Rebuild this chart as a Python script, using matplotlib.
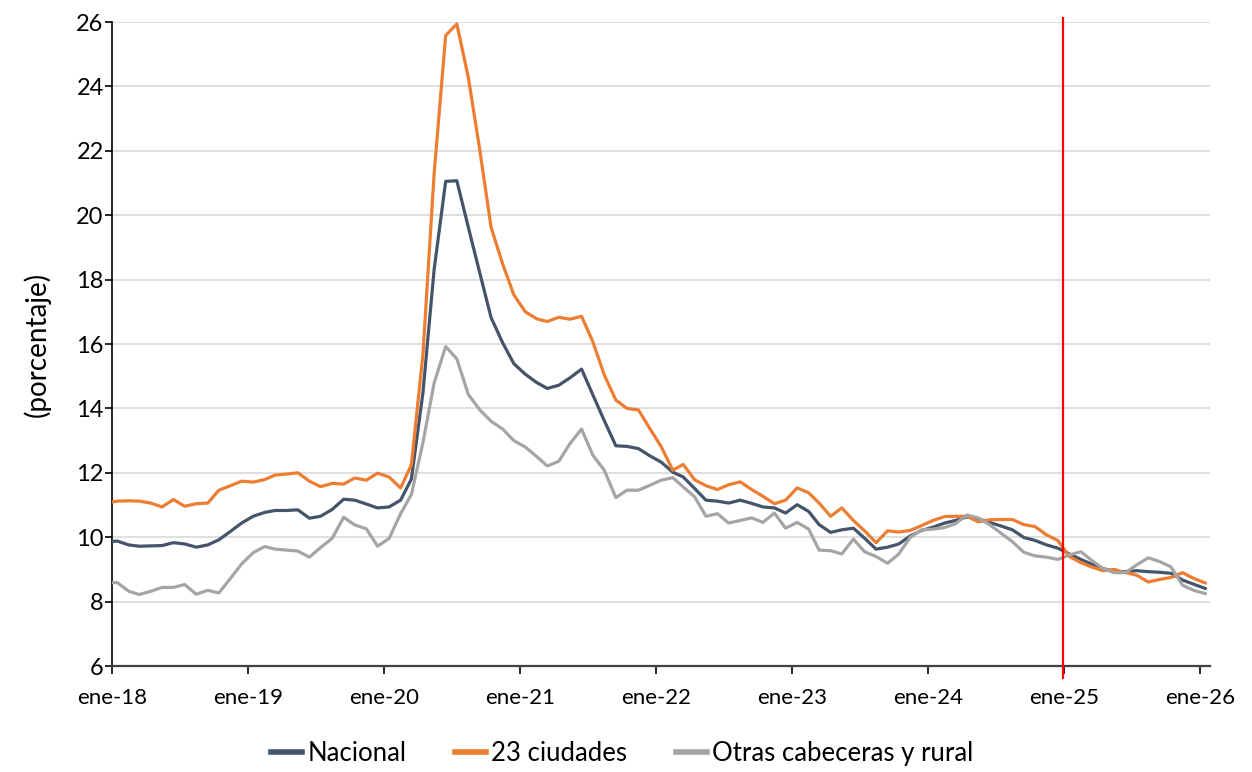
import matplotlib
matplotlib.use("Agg")
import matplotlib.pyplot as plt
import numpy as np
import pandas as pd

plt.rcParams['font.family'] = ['Lato', 'DejaVu Sans']

# monthly series, dic-17 .. ene-26 (points sit mid-month)
meses = pd.date_range('2017-12-01', '2026-01-01', freq='MS') + pd.Timedelta(days=14)

nacional = [9.85, 9.88, 9.76, 9.72, 9.73, 9.74, 9.83, 9.79, 9.69, 9.76, 9.92, 10.18,
            10.44, 10.65, 10.77, 10.83, 10.83, 10.85, 10.59, 10.65, 10.86, 11.18, 11.15, 11.03,
            10.91, 10.94, 11.15, 11.81, 14.49, 18.31, 21.05, 21.07, 19.62, 18.19, 16.82, 16.04,
            15.39, 15.06, 14.80, 14.62, 14.72, 14.95, 15.22, 14.43, 13.62, 12.84, 12.82, 12.75,
            12.53, 12.33, 12.02, 11.87, 11.51, 11.15, 11.12, 11.06, 11.15, 11.05, 10.94, 10.91,
            10.75, 11.01, 10.80, 10.39, 10.15, 10.23, 10.28, 9.97, 9.63, 9.69, 9.79, 10.04,
            10.21, 10.31, 10.44, 10.52, 10.63, 10.57, 10.46, 10.35, 10.23, 9.99, 9.90, 9.76,
            9.66, 9.48, 9.31, 9.17, 9.03, 8.93, 8.93, 8.96, 8.93, 8.91, 8.88, 8.67,
            8.54, 8.41]

ciudades = [11.06, 11.12, 11.13, 11.12, 11.06, 10.94, 11.17, 10.96, 11.04, 11.06, 11.46, 11.60,
            11.74, 11.71, 11.79, 11.93, 11.96, 12.00, 11.74, 11.57, 11.67, 11.65, 11.84, 11.77,
            11.99, 11.87, 11.53, 12.25, 15.68, 21.29, 25.58, 25.94, 24.27, 22.00, 19.62, 18.49,
            17.53, 17.00, 16.78, 16.70, 16.83, 16.77, 16.86, 16.08, 15.04, 14.26, 14.00, 13.95,
            13.38, 12.81, 12.08, 12.26, 11.78, 11.60, 11.48, 11.63, 11.72, 11.48, 11.27, 11.04,
            11.15, 11.53, 11.38, 11.06, 10.65, 10.91, 10.52, 10.20, 9.83, 10.20, 10.16, 10.21,
            10.36, 10.52, 10.64, 10.65, 10.65, 10.48, 10.54, 10.55, 10.55, 10.39, 10.33, 10.07,
            9.90, 9.40, 9.21, 9.08, 8.96, 9.00, 8.90, 8.82, 8.61, 8.69, 8.75, 8.90,
            8.72, 8.58]

otras = [8.58, 8.59, 8.32, 8.22, 8.32, 8.44, 8.44, 8.53, 8.23, 8.35, 8.27, 8.72,
         9.17, 9.52, 9.71, 9.63, 9.60, 9.57, 9.38, 9.68, 9.96, 10.62, 10.38, 10.26,
         9.72, 9.96, 10.73, 11.33, 12.94, 14.79, 15.92, 15.54, 14.43, 13.95, 13.60, 13.36,
         13.00, 12.80, 12.50, 12.21, 12.36, 12.91, 13.36, 12.55, 12.08, 11.23, 11.46, 11.46,
         11.61, 11.77, 11.85, 11.56, 11.25, 10.65, 10.73, 10.44, 10.52, 10.60, 10.46, 10.75,
         10.28, 10.46, 10.25, 9.60, 9.58, 9.48, 9.94, 9.55, 9.40, 9.19, 9.48, 10.00,
         10.23, 10.25, 10.30, 10.42, 10.69, 10.60, 10.39, 10.13, 9.86, 9.53, 9.42, 9.38,
         9.31, 9.45, 9.55, 9.29, 9.03, 8.90, 8.90, 9.14, 9.36, 9.24, 9.08, 8.51,
         8.35, 8.25]

anios = pd.date_range('2018-01-01', '2026-01-01', freq='YS')
etiquetas = ['ene-' + str(a.year)[2:] for a in anios]
corte = pd.Timestamp('2024-12-28')

fig = plt.figure(figsize=(12.52, 7.72), dpi=100)
ax = fig.add_axes([0.0895, 0.1373, 0.877, 0.8342])

ax.plot(meses, nacional, color='#44546A', lw=2.3, label='Nacional', zorder=3)
ax.plot(meses, ciudades, color='#ED7D31', lw=2.3, label='23 ciudades', zorder=3)
ax.plot(meses, otras, color='#A5A5A5', lw=2.3, label='Otras cabeceras y rural', zorder=3)

ax.axvline(corte, ymin=-0.019, ymax=1.006, color='#FF0000', lw=1.6, clip_on=False, zorder=4)

ax.set_xlim(pd.Timestamp('2018-01-01'), pd.Timestamp('2026-01-28'))
ax.set_ylim(6, 26)
ax.set_yticks(np.arange(6, 27, 2))
ax.set_xticks(anios)
ax.set_xticklabels(etiquetas)
ax.grid(axis='y', color='#D9D9D9', lw=1.2, zorder=0)
ax.set_axisbelow(True)

for s in ['top', 'right']:
    ax.spines[s].set_visible(False)
ax.spines['left'].set_color('#000000')
ax.spines['bottom'].set_color('#404040')
ax.spines['left'].set_linewidth(1.2)
ax.spines['bottom'].set_linewidth(1.6)
ax.tick_params(axis='x', labelsize=16, length=6, width=1.2, direction='out', pad=10)
ax.tick_params(axis='y', labelsize=17, length=5, width=1.2, direction='out', pad=1)
ax.set_ylabel('(porcentaje)', fontsize=20, labelpad=18)

leg = fig.legend(loc='center', bbox_to_anchor=(0.497, 0.024), ncol=3, frameon=False,
                 fontsize=18.5, handlelength=1.2, handletextpad=0.2, columnspacing=1.9)
for h in leg.get_lines():
    h.set_linewidth(4)

fig.savefig('out.png', dpi=100)
